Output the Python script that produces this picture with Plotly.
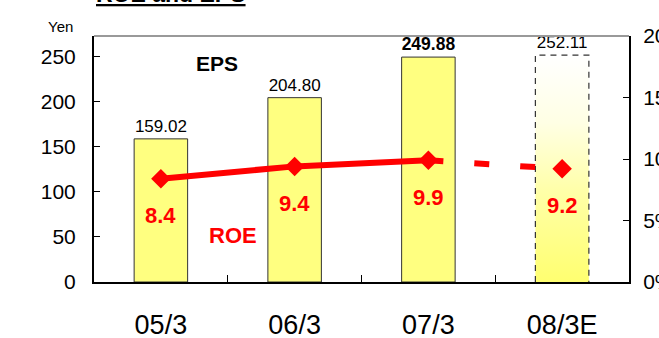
import plotly.graph_objects as go

categories = ["05/3", "06/3", "07/3", "08/3E"]
eps = [159.02, 204.80, 249.88, 252.11]
eps_labels = ["159.02", "204.80", "<b>249.88</b>", "252.11"]
roe = [8.4, 9.4, 9.9, 9.2]
roe_labels = ["8.4", "9.4", "9.9", "9.2"]
left_ticks = [0, 50, 100, 150, 200, 250]
right_ticks = [0, 5, 10, 15, 20]
right_ticktext = ["0%", "5%", "10%", "15%", "20%"]

FONT = "Arial, Liberation Sans, sans-serif"
BAR_W = 0.4
xs = list(range(len(categories)))
YEL = "#FFFF80"
RED = "#FF0000"

fig = go.Figure()

fig.add_trace(go.Bar(
    x=xs, y=eps, width=BAR_W,
    marker=dict(color=[YEL, YEL, YEL, "rgba(0,0,0,0)"],
                line=dict(color=["#333333", "#333333", "#333333", "rgba(0,0,0,0)"], width=1)),
    text=eps_labels, textposition="outside", cliponaxis=False,
    textfont=dict(family=FONT, size=[17, 17, 24, 17], color="black"),
    showlegend=False, hoverinfo="skip",
))

i = 3
xl, xr = xs[i] - BAR_W / 2, xs[i] + BAR_W / 2
fig.add_trace(go.Scatter(
    x=[xl, xl, xr, xr, xl], y=[0, eps[i], eps[i], 0, 0],
    mode="lines", fill="toself",
    fillgradient=dict(type="vertical",
                      colorscale=[[0, "#FFFF70"], [0.4, "#FFFFA8"],
                                  [0.7, "#FFFFE4"], [1, "#FFFFFF"]]),
    line=dict(color="rgba(0,0,0,0)", width=0),
    showlegend=False, hoverinfo="skip",
))
fig.add_trace(go.Scatter(
    x=[xl, xl, xr, xr], y=[0, eps[i], eps[i], 0],
    mode="lines", line=dict(color="#333333", width=1.2, dash="6px,5px"),
    showlegend=False, hoverinfo="skip",
))

fig.add_trace(go.Scatter(
    x=xs[:3], y=roe[:3], yaxis="y2", mode="lines",
    line=dict(color=RED, width=6), showlegend=False, hoverinfo="skip",
))
fig.add_trace(go.Scatter(
    x=xs[2:], y=roe[2:], yaxis="y2", mode="lines",
    line=dict(color=RED, width=6, dash="15px,31px"), showlegend=False, hoverinfo="skip",
))
fig.add_trace(go.Scatter(
    x=xs, y=roe, yaxis="y2", mode="markers",
    marker=dict(symbol="diamond", size=15, color=RED),
    showlegend=False, hoverinfo="skip",
))

annotations = []
for xv, yv, t in zip(xs, roe, roe_labels):
    annotations.append(dict(x=xv, y=yv, xref="x", yref="y2", text=f"<b>{t}</b>",
                            showarrow=False, yshift=-37,
                            font=dict(family=FONT, size=22, color=RED)))
annotations += [
    dict(x=0.42, y=(282 - 64) / 246, xref="x", yref="paper", text="<b>EPS</b>",
         showarrow=False, font=dict(family=FONT, size=21, color="black"),
         yanchor="middle"),
    dict(x=0.54, y=(282 - 235) / 246, xref="x", yref="paper", text="<b>ROE</b>",
         showarrow=False, font=dict(family=FONT, size=22, color=RED), yanchor="middle"),
    dict(x=-0.035, y=1.0, xref="paper", yref="paper", text="Yen", showarrow=False,
         xanchor="right", yanchor="bottom", yshift=-1,
         font=dict(family=FONT, size=15, color="black")),
    dict(x=0.0, y=1.0, xref="paper", yref="paper", text="<b><u>ROE and EPS</u></b>",
         showarrow=False, xanchor="left", yanchor="bottom", yshift=27,
         font=dict(family=FONT, size=23, color="black")),
]

fig.update_layout(
    width=659, height=338,
    margin=dict(l=94, r=30, t=36, b=56, autoexpand=False),
    paper_bgcolor="white", plot_bgcolor="white",
    font=dict(family=FONT, color="black"),
    xaxis=dict(
        range=[-0.5, 3.5], tickvals=xs, ticktext=categories, automargin=False,
        ticks="", showgrid=False, zeroline=False,
        showline=True, linecolor="black", linewidth=2,
        tickfont=dict(family=FONT, size=27, color="black"),
        ticklabelstandoff=18,
        minor=dict(tickvals=[0.5, 1.5, 2.5], ticks="inside", ticklen=7,
                   tickcolor="black", tickwidth=1, showgrid=False),
    ),
    yaxis=dict(
        range=[0, 273.3], tickvals=left_ticks, ticks="inside", ticklen=6, automargin=False,
        tickcolor="black", showgrid=False, zeroline=False,
        showline=True, linecolor="black", linewidth=2,
        tickfont=dict(family=FONT, size=21, color="black"),
        ticklabelstandoff=12,
    ),
    yaxis2=dict(
        range=[0, 20], tickvals=right_ticks, ticktext=right_ticktext, automargin=False,
        overlaying="y", side="right", ticks="inside", ticklen=6,
        tickcolor="black", showgrid=False, zeroline=False,
        showline=True, linecolor="black", linewidth=2,
        tickfont=dict(family=FONT, size=21, color="black"),
        ticklabelstandoff=8,
    ),
    shapes=[dict(type="line", xref="paper", yref="paper", x0=0, x1=1, y0=1, y1=1,
                 line=dict(color="#999999", width=2))],
    annotations=annotations,
)

fig.write_html("out.html")
